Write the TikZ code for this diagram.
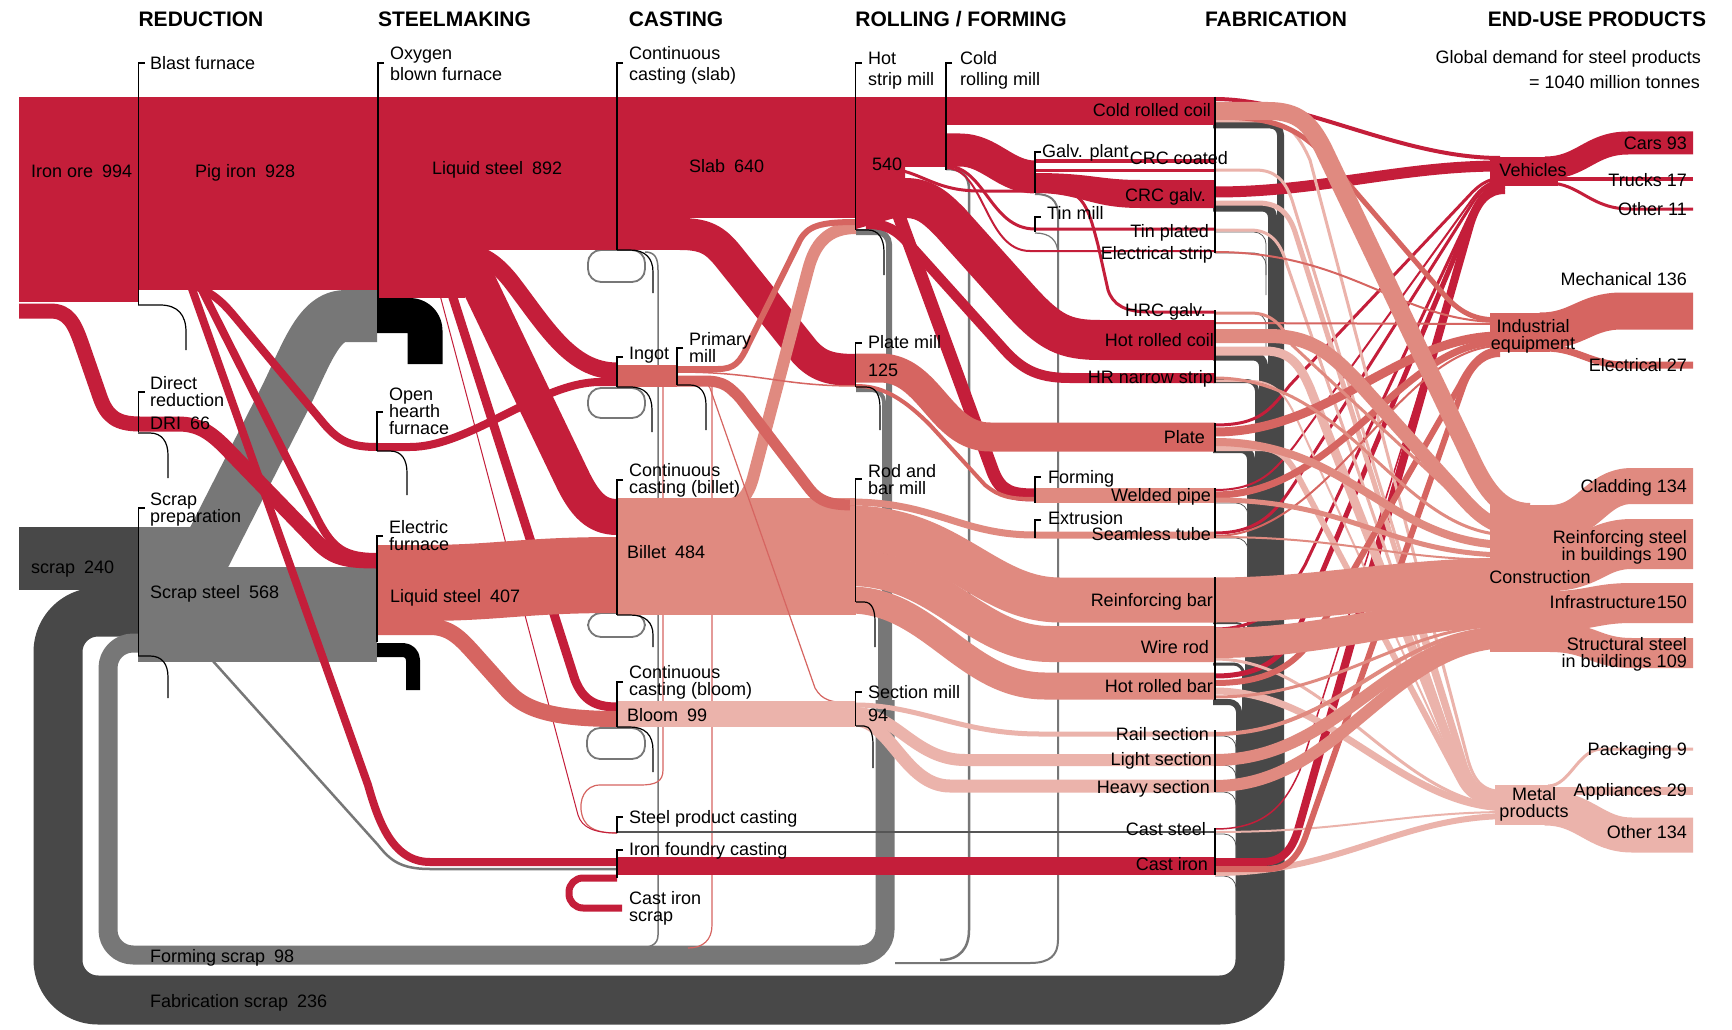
\documentclass[tikz,border=0pt]{standalone}
\usepackage{fontspec}
\setmainfont{Liberation Sans}
\definecolor{RD}{HTML}{C41E3A}
\definecolor{MD}{HTML}{D66561}
\definecolor{LT}{HTML}{E08A80}
\definecolor{VL}{HTML}{EBB3AB}
\definecolor{GR}{HTML}{777777}
\definecolor{DG}{HTML}{484848}
\definecolor{LN}{HTML}{555555}
\newcommand\gap{\hspace{9pt}}
\newcommand\brk[3]{\draw[brk] (#1+6,#2) -- (#1,#2) -- (#1,#3);}
\tikzset{
  fl/.style={line width=#1pt, line cap=butt, line join=round},
  lab/.style={font=\fontsize{18}{20}\selectfont, inner sep=0pt, anchor=base west},
  rlab/.style={font=\fontsize{18}{20}\selectfont, inner sep=0pt, anchor=base east},
  clab/.style={font=\fontsize{18}{20}\selectfont, inner sep=0pt, anchor=base},
  hdr/.style={font=\fontsize{21}{24}\selectfont\bfseries, inner sep=0pt, anchor=base},
  brk/.style={line width=1.2pt, black},
  hook/.style={line width=1.2pt, black},
  fhook/.style={line width=0.8pt, LN, rounded corners=12pt},
  pill/.style={draw=GR, line width=1.8pt, rounded corners=13pt},
}
\begin{document}
\begin{tikzpicture}[x=1pt,y=-1pt]
\useasboundingbox (0,0) rectangle (1732,1030);
\fill[white] (0,0) rectangle (1732,1030);

% ===== fabrication scrap (dark grey) =====
\draw[DG,fl=7,rounded corners=10pt] (1213,125) -- (1280.5,125) -- (1280.5,760);
\draw[DG,fl=9,rounded corners=10pt] (1213,207) -- (1272.5,207) -- (1272.5,760);
\draw[DG,fl=9,rounded corners=10pt] (1213,356) -- (1263.5,356) -- (1263.5,760);
\draw[DG,fl=4,rounded corners=10pt] (1213,381) -- (1257,381) -- (1257,760);
\draw[DG,fl=8,rounded corners=10pt] (1213,449) -- (1251,449) -- (1251,760);
\draw[DG,fl=2,rounded corners=10pt] (1213,623) -- (1246,623) -- (1246,760);
\draw[DG,fl=3,rounded corners=10pt] (1213,664) -- (1243.5,664) -- (1243.5,760);
\draw[DG,fl=6,rounded corners=10pt] (1213,702) -- (1239,702) -- (1239,760);
\draw[DG,fl=49,rounded corners=40pt] (1260,740) -- (1260,1000) -- (58,1000) -- (58,612) -- (140,612);
\draw[fhook] (1215,232) -- (1266,232) -- (1266,275);
\draw[fhook] (1215,253) -- (1266,253) -- (1266,295);
\draw[fhook] (1215,313) -- (1266,313) -- (1266,355);
\draw[fhook] (1215,503) -- (1248,503) -- (1248,545);
\draw[fhook] (1215,538) -- (1248,538) -- (1248,580);
\draw[fhook] (1215,736) -- (1236,736) -- (1236,775);
\draw[fhook] (1215,765) -- (1236,765) -- (1236,805);
\draw[fhook] (1215,792) -- (1236,792) -- (1236,830);
\draw[fhook] (1215,834) -- (1236,834) -- (1236,872);
\draw[fhook] (1215,876) -- (1236,876) -- (1236,915);

% ===== forming scrap (grey) =====
\draw[GR,fl=19,rounded corners=25pt] (885,700) -- (885,955) -- (108,955) -- (108,643) -- (140,643);
\draw[GR,fl=6,rounded corners=12pt] (856,232) -- (889,232) -- (889,720);
\draw[GR,fl=4,rounded corners=12pt] (856,390) -- (884,390) -- (884,720);
\draw[GR,fl=8,rounded corners=12pt] (856,606) -- (882,606) -- (882,720);
\draw[GR,line width=1.5pt] (645,252) .. controls (655,252) and (658,258) .. (658,270) -- (658,935) .. controls (658,945) and (650,948) .. (637,948);
\draw[GR,line width=2.5pt] (946,169) .. controls (962,169) and (969,175) .. (969,190) -- (969,930) .. controls (969,948) and (960,960) .. (940,960);
\draw[GR,line width=2pt] (1035,194) .. controls (1050,194) and (1058,200) .. (1058,215) -- (1058,940) .. controls (1058,955) and (1050,963) .. (1030,963) -- (895,963);
\draw[GR,line width=1.2pt] (1035,233) .. controls (1050,233) and (1058,240) .. (1058,255);
\draw[MD,line width=1.2pt] (712,387) -- (712,925) .. controls (712,940) and (703,948) .. (688,948);
\draw[MD,line width=1.2pt] (663,387) -- (663,770) .. controls (663,782) and (655,785) .. (640,785) -- (600,785) .. controls (585,785) and (578,800) .. (582,815) .. controls (586,830) and (600,833) .. (617,833);

% grey loss pills
\draw[pill] (588,250) rectangle (645,282);
\draw[pill] (588,388) rectangle (645,418);
\draw[pill] (588,613) rectangle (645,637);
\draw[pill] (587,728) rectangle (645,759);

% ===== scrap blocks =====
\fill[DG] (19,527) rectangle (138,590);
\fill[GR] (138,567) rectangle (377,662);
\fill[GR] (138,527) rectangle (192,567);
\draw[GR,fl=52] (195,575) -- (285,398) .. controls (305,358) and (318,316) .. (345,316) -- (377,316);
\draw[GR,line width=2.5pt] (212,660) -- (378,845) .. controls (390,860) and (400,869) .. (430,869) -- (617,869);

% ===== iron ore, pig iron =====
\fill[RD] (19,97) rectangle (138,302);
\fill[RD] (138,97) rectangle (377,290);
\draw[RD,fl=15] (19,311) -- (50,311) .. controls (68,311) and (74,322) .. (82,345) -- (100,397) .. controls (107,417) and (117,424) .. (140,424) -- (178,424) .. controls (198,424) and (210,432) .. (225,447) -- (318,543) .. controls (333,558) and (345,561) .. (377,561);
\draw[RD,fl=8] (195,286) .. controls (215,294) and (225,305) .. (235,317) -- (325,425) .. controls (340,442) and (352,447) .. (377,447);
\draw[RD,fl=8] (200,286) -- (318,520) .. controls (333,549) and (345,557) .. (377,557);
\draw[RD,fl=8] (191,286) -- (368,785) .. controls (378,820) and (392,862) .. (430,862) -- (617,862);

% ===== BOF =====
\fill[RD] (377,97) rectangle (617,250);
\fill[RD] (377,250) rectangle (465,298);
\draw[black,fl=35,rounded corners=15pt] (377,315.5) -- (425,315.5) -- (425,364);
\draw[RD,fl=36] (415,255) .. controls (445,255) and (468,262) .. (478,282) -- (572,478) .. controls (585,505) and (597,517) .. (617,517);
\draw[RD,fl=17] (450,250) .. controls (480,250) and (495,262) .. (510,280) .. controls (545,325) and (570,371) .. (617,371);
\draw[RD,fl=9] (449,285) -- (575,680) .. controls (583,700) and (595,707) .. (617,707);
\draw[RD,line width=1pt] (440,295) -- (578,815) .. controls (582,828) and (595,833) .. (617,833);

% ===== EAF / OHF =====
\draw[MD,fl=76] (377,583) -- (420,583) .. controls (500,583) and (520,575) .. (617,575);
\draw[MD,fl=16] (377,627) -- (430,627) .. controls (452,627) and (462,640) .. (480,660) -- (505,688) .. controls (520,705) and (540,719) .. (617,719);
\draw[black,fl=14,rounded corners=10pt] (377,650) -- (413,650) -- (413,690);
\draw[RD,fl=8] (377,447) -- (410,447) .. controls (470,447) and (540,382) .. (600,382) -- (617,382);

% ===== slab =====
\fill[RD] (617,97) rectangle (856,218);
\fill[RD] (617,218) rectangle (690,250);
\draw[RD,fl=32] (680,234) .. controls (705,234) and (715,240) .. (728,256) -- (805,352) .. controls (818,366) and (830,370) .. (856,370);

% ===== billet, ingot, bloom =====
\fill[LT] (617,498) rectangle (856,615);
\draw[LT,fl=12] (700,505) -- (722,505) .. controls (742,505) and (748,495) .. (753,478) -- (808,270) .. controls (815,243) and (828,228) .. (856,228);
\fill[MD] (617,365) rectangle (677,387);
\draw[MD,fl=6] (677,369) -- (718,369) .. controls (735,369) and (740,362) .. (748,345) -- (800,240) .. controls (808,226) and (820,222) .. (856,222);
\draw[MD,line width=1.5pt] (677,372) .. controls (760,372) and (780,386) .. (856,386);
\draw[MD,fl=11] (677,381) -- (705,381) .. controls (725,381) and (730,388) .. (740,398) -- (808,487) .. controls (820,503) and (832,505) .. (856,505);
\draw[MD,line width=1.2pt] (677,378) .. controls (700,378) and (705,380) .. (710,388) -- (815,688) .. controls (822,700) and (830,703) .. (856,703);
\fill[VL] (617,701) rectangle (855,727);

% ===== foundry =====
\draw[RD,fl=18] (617,866) -- (1215,866);
\draw[RD,fl=7,rounded corners=14pt] (617,878) -- (569,878) -- (569,908) -- (622,908);
\draw[LN,line width=2.5pt] (617,832) -- (1215,832);

% ===== hot strip / cold rolling =====
\fill[RD] (856,97) rectangle (946,167);
\fill[RD] (856,167) -- (905,167) -- (905,215) -- (856,229) -- cycle;
\fill[RD] (946,97) rectangle (1215,125);
\draw[RD,fl=33] (946,150) -- (960,150) .. controls (990,150) and (1005,177) .. (1035,177);
\draw[RD,line width=3pt] (946,166) .. controls (985,166) and (990,229) .. (1035,229) -- (1215,229);
\draw[RD,line width=2pt] (946,168) .. controls (985,168) and (985,251) .. (1030,251) -- (1215,251);
\draw[RD,line width=3pt] (880,168) .. controls (920,168) and (930,191) .. (980,191) -- (1060,191) .. controls (1085,191) and (1090,215) .. (1098,245) -- (1108,290) .. controls (1113,305) and (1125,312) .. (1150,312) -- (1215,312);
\draw[RD,fl=40] (860,198) -- (905,198) .. controls (925,198) and (935,207) .. (950,222) -- (1020,300) .. controls (1050,333) and (1065,340) .. (1100,340) -- (1215,340);
\draw[RD,fl=10] (866,224) .. controls (888,224) and (896,230) .. (910,245) -- (1000,345) .. controls (1020,368) and (1035,378) .. (1070,378) -- (1215,378);
\draw[RD,fl=13] (895,205) -- (993,472) .. controls (1001,492) and (1012,495) .. (1035,495);
% galv plant outputs
\draw[RD,line width=3pt] (1035,161) -- (1215,161);
\draw[RD,line width=3pt] (1035,170) -- (1215,170);
\fill[RD] (1035,173) .. controls (1090,173) and (1100,180) .. (1140,180) -- (1215,180) -- (1215,208) -- (1140,208) .. controls (1090,208) and (1080,193) .. (1035,193) -- cycle;

% ===== plate mill =====
\draw[MD,fl=29] (856,368) -- (880,368) .. controls (930,368) and (940,437) .. (990,437) -- (1215,437);
\draw[MD,fl=4] (856,386) .. controls (880,386) and (900,395) .. (930,425) -- (985,485) .. controls (1000,497) and (1010,499) .. (1035,499);
\fill[LT] (1035,488) rectangle (1215,503);

% ===== rod & bar mill =====
\draw[LT,fl=7] (850,502) .. controls (935,502) and (960,535) .. (1035,535) -- (1215,535);
\draw[LT,fl=45] (850,528) .. controls (950,528) and (985,600) .. (1060,600) -- (1215,600);
\draw[LT,fl=36] (850,568) .. controls (940,568) and (975,644) .. (1050,644) -- (1215,644);
\draw[LT,fl=27] (850,600) .. controls (930,600) and (965,686) .. (1045,686) -- (1215,686);

% ===== section mill =====
\draw[VL,fl=5] (855,705) .. controls (920,705) and (960,734) .. (1040,734) -- (1215,734);
\draw[VL,fl=12] (855,713) .. controls (895,713) and (915,760) .. (965,760) -- (1215,760);
\draw[VL,fl=13] (855,720) .. controls (890,720) and (905,786) .. (950,786) -- (1215,786);

% ===== fabrication -> end use =====
% to vehicles
\draw[RD,line width=4pt] (1215,99) .. controls (1300,99) and (1400,158) .. (1500,158);
\draw[RD,fl=11] (1215,192) .. controls (1320,192) and (1400,166) .. (1500,166);
\draw[RD,line width=3pt] (1215,425) .. controls (1260,425) and (1270,410) .. (1290,385) -- (1465,200) .. controls (1477,187) and (1485,178) .. (1505,178);
\draw[RD,line width=2pt] (1215,490) .. controls (1260,490) and (1275,470) .. (1295,445) -- (1468,205) .. controls (1477,192) and (1486,180) .. (1505,180);
\draw[RD,line width=3pt] (1215,533) .. controls (1265,533) and (1280,505) .. (1300,475) -- (1468,210) .. controls (1477,195) and (1486,182) .. (1505,182);
\draw[RD,line width=3pt] (1215,629) .. controls (1265,629) and (1285,600) .. (1305,565) -- (1470,215) .. controls (1478,198) and (1487,184) .. (1505,184);
\draw[RD,line width=5pt] (1215,676) .. controls (1265,676) and (1285,655) .. (1300,625) -- (1470,220) .. controls (1478,200) and (1487,186) .. (1505,186);
\draw[RD,line width=1.5pt] (1215,829) .. controls (1265,829) and (1285,805) .. (1300,770) -- (1472,225) .. controls (1479,203) and (1488,188) .. (1505,188);
\draw[RD,fl=8] (1215,862) -- (1262,862) .. controls (1282,862) and (1292,850) .. (1298,830) -- (1470,225) .. controls (1477,202) and (1487,190) .. (1505,190);
% to metal products
\draw[VL,line width=3pt] (1215,121) -- (1262,121) .. controls (1290,121) and (1300,138) .. (1310,160) -- (1468,760) .. controls (1476,788) and (1488,792) .. (1510,792);
\draw[VL,line width=3pt] (1215,170) -- (1255,170) .. controls (1275,170) and (1285,180) .. (1292,200) -- (1466,765) .. controls (1475,790) and (1488,794) .. (1510,794);
\draw[VL,fl=5] (1215,203) -- (1258,203) .. controls (1280,203) and (1290,215) .. (1296,235) -- (1464,768) .. controls (1473,792) and (1487,796) .. (1510,796);
\draw[VL,line width=3pt] (1215,230) -- (1250,230) .. controls (1270,230) and (1280,242) .. (1286,262) -- (1462,772) .. controls (1471,794) and (1486,798) .. (1510,798);
\draw[VL,fl=9] (1215,351) -- (1265,351) .. controls (1290,351) and (1300,365) .. (1310,388) -- (1462,775) .. controls (1472,798) and (1487,801) .. (1510,801);
\draw[VL,line width=2pt] (1215,381) -- (1250,381) .. controls (1275,381) and (1285,395) .. (1295,415) -- (1460,778) .. controls (1470,800) and (1486,803) .. (1510,803);
\draw[VL,fl=6] (1215,448) -- (1258,448) .. controls (1280,448) and (1290,460) .. (1300,480) -- (1460,780) .. controls (1470,800) and (1486,804) .. (1510,804);
\draw[VL,line width=3pt] (1215,659) .. controls (1330,659) and (1400,806) .. (1510,806);
\draw[VL,fl=7] (1215,691) .. controls (1330,691) and (1400,808) .. (1510,808);
\draw[VL,line width=2pt] (1215,832) .. controls (1350,832) and (1400,812) .. (1510,812);
\draw[VL,fl=6] (1215,873) .. controls (1340,873) and (1400,816) .. (1510,816);
% to industrial equipment
\draw[MD,line width=5pt] (1215,117) .. controls (1275,117) and (1300,128) .. (1330,162) -- (1440,290) .. controls (1460,314) and (1475,320) .. (1500,320);
\draw[MD,line width=2pt] (1215,252) .. controls (1350,252) and (1400,322) .. (1500,322);
\draw[MD,line width=2pt] (1215,323) -- (1500,324);
\draw[MD,fl=9] (1215,432) .. controls (1330,432) and (1400,336) .. (1500,336);
\draw[MD,fl=7] (1215,495) .. controls (1340,495) and (1400,342) .. (1500,342);
\draw[MD,line width=2pt] (1215,536) .. controls (1330,536) and (1400,346) .. (1500,346);
\draw[MD,fl=6] (1215,683) .. controls (1275,683) and (1300,660) .. (1320,628) -- (1460,385) .. controls (1470,365) and (1482,350) .. (1500,350);
\draw[MD,fl=6] (1215,869) -- (1268,869) .. controls (1288,869) and (1298,856) .. (1305,838) -- (1462,390) .. controls (1469,368) and (1482,354) .. (1500,354);
% to construction
\draw[LT,line width=3pt] (1215,313) -- (1250,313) .. controls (1272,313) and (1282,325) .. (1292,345) -- (1465,505) .. controls (1480,518) and (1492,520) .. (1510,520);
\draw[LT,fl=14] (1215,336) -- (1268,336) .. controls (1308,336) and (1328,350) .. (1358,382) -- (1460,495) .. controls (1480,518) and (1495,530) .. (1525,530);
\draw[LT,line width=3pt] (1215,378) .. controls (1350,378) and (1400,535) .. (1510,535);
\draw[LT,fl=8] (1215,442) .. controls (1350,442) and (1390,545) .. (1510,545);
\draw[LT,fl=5] (1215,500) .. controls (1350,500) and (1390,555) .. (1510,555);
\draw[LT,line width=2pt] (1215,537) .. controls (1350,537) and (1390,560) .. (1510,560);
\draw[LT,fl=45] (1215,600) .. controls (1320,600) and (1400,580) .. (1520,580);
\draw[LT,fl=30] (1215,643) .. controls (1330,643) and (1400,612) .. (1520,612);
\draw[LT,line width=3pt] (1215,697) .. controls (1340,697) and (1400,625) .. (1510,625);
\draw[LT,line width=4pt] (1215,734) .. controls (1340,734) and (1390,628) .. (1510,628);
\draw[LT,fl=12] (1215,760) .. controls (1340,760) and (1390,634) .. (1510,634);
\draw[LT,fl=12] (1215,786) .. controls (1340,786) and (1390,642) .. (1510,642);
\draw[LT,fl=18] (1215,111) -- (1268,111) .. controls (1298,111) and (1310,123) .. (1323,148) -- (1468,452) .. controls (1483,485) and (1498,512) .. (1530,512);

% ===== end-use nodes =====
\fill[RD] (1490,157) rectangle (1558,186);
\draw[RD,fl=23] (1545,168) .. controls (1582,168) and (1590,143) .. (1628,143) -- (1693,143);
\draw[RD,fl=4] (1545,179) -- (1693,179);
\draw[RD,fl=3] (1548,183) .. controls (1580,183) and (1590,209) .. (1630,209) -- (1693,209);
\fill[MD] (1490,313) rectangle (1550,352);
\draw[MD,fl=37] (1540,331) .. controls (1578,331) and (1585,311) .. (1622,311) -- (1693,311);
\draw[MD,fl=7] (1545,348) .. controls (1578,348) and (1590,365) .. (1625,365) -- (1693,365);
\fill[LT] (1490,505) rectangle (1560,652);
\draw[LT,fl=36] (1550,523) .. controls (1590,523) and (1595,486) .. (1632,486) -- (1693,486);
\draw[LT,fl=50] (1550,566) .. controls (1590,566) and (1595,544) .. (1632,544) -- (1693,544);
\draw[LT,fl=40] (1550,611) .. controls (1590,611) and (1595,603) .. (1632,603) -- (1693,603);
\draw[LT,fl=30] (1550,637) .. controls (1590,637) and (1595,653) .. (1632,653) -- (1693,653);
\fill[VL] (1495,785) rectangle (1550,825);
\draw[VL,fl=3] (1548,786) .. controls (1570,786) and (1578,749) .. (1602,749) -- (1693,749);
\draw[VL,fl=8] (1545,791) -- (1693,791);
\draw[VL,fl=35] (1545,808) .. controls (1585,808) and (1595,835) .. (1632,835) -- (1693,835);

% ===== brackets =====
\brk{138.5}{63}{305}
\brk{378}{63}{333}
\brk{617}{63}{250}
\brk{855.5}{63}{230}
\brk{946}{63}{170}
\brk{1035}{152}{193}
\brk{1035}{217}{232}
\brk{138.5}{392}{432}
\brk{138.5}{508}{656}
\brk{377}{412}{451}
\brk{377}{536}{642}
\brk{617}{357}{387}
\brk{677}{348}{385}
\brk{617}{480}{615}
\brk{855.5}{343}{387}
\brk{855.5}{479}{602}
\brk{1035}{477}{503}
\brk{1035}{520}{538}
\brk{617}{682}{727}
\brk{855.5}{692}{726}
\brk{617}{817}{833}
\brk{617}{850}{878}
\draw[brk] (1215,97) -- (1215,253);
\draw[brk] (1215,310) -- (1215,383);
\draw[brk] (1215,423) -- (1215,452);
\draw[brk] (1215,488) -- (1215,538);
\draw[brk] (1215,577) -- (1215,700);
\draw[brk] (1215,730) -- (1215,792);
\draw[brk] (1215,828) -- (1215,875);

% ===== loss hooks =====
\draw[hook] (138,305) -- (160,305) .. controls (178,305) and (186,315) .. (186,332) -- (186,350);
\draw[hook] (138,433) -- (150,433) .. controls (162,433) and (168,442) .. (168,455) -- (168,478);
\draw[hook] (138,656) -- (150,656) .. controls (162,656) and (168,664) .. (168,677) -- (168,698);
\draw[hook] (377,451) -- (390,451) .. controls (402,451) and (407,460) .. (407,473) -- (407,495);
\draw[hook] (617,250) -- (630,250) .. controls (645,250) and (653,258) .. (653,272) -- (653,293);
\draw[hook] (617,387) -- (630,387) .. controls (645,387) and (652,395) .. (652,410) -- (652,432);
\draw[hook] (677,385) -- (690,385) .. controls (700,385) and (706,392) .. (706,405) -- (706,430);
\draw[hook] (617,615) -- (630,615) .. controls (645,615) and (653,622) .. (653,635) -- (653,647);
\draw[hook] (617,727) -- (630,727) .. controls (645,727) and (653,735) .. (653,750) -- (653,772);
\draw[hook] (856,230) -- (868,230) .. controls (878,230) and (884,238) .. (884,252) -- (884,275);
\draw[hook] (856,387) -- (866,387) .. controls (876,387) and (880,395) .. (880,408) -- (880,430);
\draw[hook] (856,602) -- (864,602) .. controls (872,602) and (875,610) .. (875,622) -- (875,647);
\draw[hook] (856,726) -- (864,726) .. controls (870,726) and (873,733) .. (873,745) -- (873,768);

% ===== headers =====
\node[hdr] (h1) at (201,26.5) {REDUCTION};
\node[hdr] (h2) at (454.5,26.5) {STEELMAKING};
\node[hdr] (h3) at (676,26.5) {CASTING};
\node[hdr] (h4) at (961,26.5) {ROLLING / FORMING};
\node[hdr] (h5) at (1276,26.5) {FABRICATION};
\node[hdr] (h6) at (1597,26.5) {END-USE PRODUCTS};
\node[rlab] (g1) at (1701,63.5) {Global demand for steel products};
\node[rlab] (g2) at (1700,88.5) {= 1040 million tonnes};

% ===== process labels =====
\node[lab] (a1) at (150,69.5) {Blast furnace};
\node[lab] (a2) at (390,59.5) {Oxygen};
\node[lab] (a3) at (390,81) {blown furnace};
\node[lab] (a4) at (629,59.5) {Continuous};
\node[lab] (a5) at (629,81) {casting (slab)};
\node[lab] (a6) at (868,64.5) {Hot};
\node[lab] (a7) at (868,86) {strip mill};
\node[lab] (a8) at (960,64.5) {Cold};
\node[lab] (a9) at (960,86) {rolling mill};
\node[lab] (a10) at (1042,157.5) {Galv. plant};
\node[lab] (a11) at (1047,219.5) {Tin mill};
\node[lab] (a12) at (150,389.5) {Direct};
\node[lab] (a13) at (150,406.5) {reduction};
\node[lab] (a14) at (150,429.5) {DRI\gap 66};
\node[lab] (a15) at (150,505.5) {Scrap};
\node[lab] (a16) at (150,522.5) {preparation};
\node[lab] (a17) at (389,400.5) {Open};
\node[lab] (a18) at (389,417.5) {hearth};
\node[lab] (a19) at (389,434) {furnace};
\node[lab] (a20) at (389,533.5) {Electric};
\node[lab] (a21) at (389,550) {furnace};
\node[lab] (a22) at (629,359.5) {Ingot};
\node[lab] (a23) at (689,345.5) {Primary};
\node[lab] (a24) at (689,362) {mill};
\node[lab] (a25) at (629,476.5) {Continuous};
\node[lab] (a26) at (629,493.5) {casting (billet)};
\node[lab] (a27) at (868,348.5) {Plate mill};
\node[lab] (a28) at (868,376.5) {125};
\node[lab] (a29) at (868,477.5) {Rod and};
\node[lab] (a30) at (868,494) {bar mill};
\node[lab] (a31) at (1048,483.5) {Forming};
\node[lab] (a32) at (1048,524.5) {Extrusion};
\node[lab] (a33) at (629,678.5) {Continuous};
\node[lab] (a34) at (629,695) {casting (bloom)};
\node[lab] (a35) at (627,721.5) {Bloom\gap 99};
\node[lab] (a36) at (868,698.5) {Section mill};
\node[lab] (a37) at (868,721.5) {94};
\node[lab] (a38) at (629,823.5) {Steel product casting};
\node[lab] (a39) at (629,855.5) {Iron foundry casting};
\node[lab] (a40) at (629,904.5) {Cast iron};
\node[lab] (a41) at (629,921.5) {scrap};
\node[lab] (a42) at (31,177.5) {Iron ore\gap 994};
\node[lab] (a43) at (195,177.5) {Pig iron\gap 928};
\node[lab] (a44) at (432,174.5) {Liquid steel\gap 892};
\node[lab] (a45) at (689,172.5) {Slab\gap 640};
\node[lab] (a46) at (872,170.5) {540};
\node[lab] (a47) at (31,573.5) {scrap\gap 240};
\node[lab] (a48) at (150,598.5) {Scrap steel\gap 568};
\node[lab] (a49) at (390,602.5) {Liquid steel\gap 407};
\node[lab] (a50) at (627,558.5) {Billet\gap 484};
\node[lab] (a51) at (150,962) {Forming scrap\gap 98};
\node[lab] (a52) at (150,1007) {Fabrication scrap\gap 236};

% ===== fabrication labels =====
\node[rlab] (f1) at (1211,116.5) {Cold rolled coil};
\node[rlab] (f2) at (1228,164.5) {CRC coated};
\node[rlab] (f3) at (1206,201.5) {CRC galv.};
\node[rlab] (f4) at (1209,237.5) {Tin plated};
\node[rlab] (f5) at (1213,259.5) {Electrical strip};
\node[rlab] (f6) at (1206,316.5) {HRC galv.};
\node[rlab] (f7) at (1214,346.5) {Hot rolled coil};
\node[rlab] (f8) at (1213,383.5) {HR narrow strip};
\node[rlab] (f9) at (1205,443.5) {Plate};
\node[rlab] (f10) at (1211,501.5) {Welded pipe};
\node[rlab] (f11) at (1211,540) {Seamless tube};
\node[rlab] (f12) at (1213,606.5) {Reinforcing bar};
\node[rlab] (f13) at (1209,653.5) {Wire rod};
\node[rlab] (f14) at (1213,692.5) {Hot rolled bar};
\node[rlab] (f15) at (1209,740) {Rail section};
\node[rlab] (f16) at (1212,765) {Light section};
\node[rlab] (f17) at (1210,793) {Heavy section};
\node[rlab] (f18) at (1206,835) {Cast steel};
\node[rlab] (f19) at (1208,870) {Cast iron};

% ===== end-use labels =====
\node[clab] (e1) at (1533,176.5) {Vehicles};
\node[clab] (e2) at (1533,332.5) {Industrial};
\node[clab] (e3) at (1533,349.5) {equipment};
\node[clab] (e4) at (1540,583.5) {Construction};
\node[clab] (e5) at (1534,800.5) {Metal};
\node[clab] (e6) at (1534,817.5) {products};
\node[rlab] (u1) at (1687,149.5) {Cars 93};
\node[rlab] (u2) at (1687,186.5) {Trucks 17};
\node[rlab] (u3) at (1687,215.5) {Other 11};
\node[rlab] (u4) at (1687,285.5) {Mechanical 136};
\node[rlab] (u5) at (1687,371.5) {Electrical 27};
\node[rlab] (u6) at (1687,492.5) {Cladding 134};
\node[rlab] (u7) at (1687,543.5) {Reinforcing steel};
\node[rlab] (u8) at (1687,560) {in buildings 190};
\node[rlab] (u9) at (1687,608.5) {Infrastructure\hspace{1pt}150};
\node[rlab] (u10) at (1687,650.5) {Structural steel};
\node[rlab] (u11) at (1687,667.5) {in buildings 109};
\node[rlab] (u12) at (1687,755) {Packaging 9};
\node[rlab] (u13) at (1687,796.5) {Appliances 29};
\node[rlab] (u14) at (1687,838.5) {Other 134};
\end{tikzpicture}
\end{document}
